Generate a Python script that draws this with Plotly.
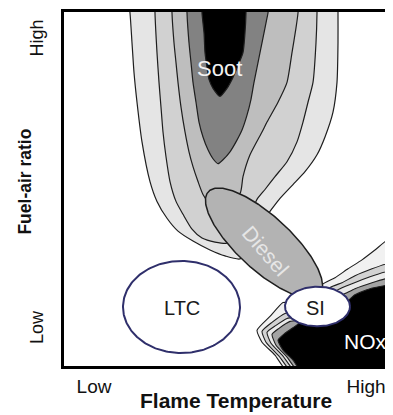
import numpy as np
import plotly.graph_objects as go

# ---- data (x: flame temperature index 0..326, y: fuel-air ratio index 0..357) ----
soot_levels = ["soot 1", "soot 2", "soot 3", "soot 4", "soot 5"]
soot_colors = ["#e5e5e5", "#d1d1d1", "#bebebe", "#828282", "#000000"]

soot1_x = [64, 66, 68, 70, 73, 78, 86, 93, 103, 114, 129, 146, 161, 176, 194, 198,
           206, 216, 229, 241, 253, 261, 269, 273, 274, 274, 274]
soot1_y = [371, 356, 326, 296, 266, 226, 186, 166, 149, 136, 126, 117, 111, 108, 126, 146,
           156, 169, 183, 196, 213, 231, 256, 286, 326, 356, 371]

soot2_x = [91, 91, 93, 95, 97, 99, 102, 106, 112, 119, 128, 138, 151, 164, 181,
           193, 201, 211, 223, 233, 239, 244, 249, 252, 253, 253]
soot2_y = [371, 356, 316, 286, 261, 236, 211, 186, 166, 153, 138, 129, 125, 124, 141,
           168, 178, 191, 206, 226, 246, 266, 286, 326, 356, 371]

soot3_x = [108, 108, 110, 112, 114, 117, 121, 125, 129, 134, 139, 146, 161,
           176, 179, 186, 198, 203, 214, 223, 228, 232, 234, 235]
soot3_y = [371, 356, 326, 306, 286, 261, 236, 216, 201, 186, 173, 164, 166,
           174, 191, 213, 236, 246, 266, 286, 316, 341, 356, 371]

soot4_x = [123, 123, 125, 127, 129, 132, 135, 139, 144, 149, 154, 159, 166, 172,
           178, 183, 187, 190, 194, 199, 203, 204, 205]
soot4_y = [371, 356, 326, 306, 286, 266, 246, 231, 218, 209, 204, 208, 216, 226,
           238, 253, 269, 286, 306, 331, 351, 356, 371]

soot5_x = [138, 138, 140, 141, 143, 145, 149, 156, 163, 169, 174, 179, 181, 182, 182]
soot5_y = [371, 356, 336, 316, 301, 289, 280, 272, 280, 291, 303, 316, 336, 356, 371]

nox_colors = ["#f1f1f1", "#d2d2d2", "#e9e9e9", "#a3a3a3", "#000000"]
nox1_x = [336, 326, 311, 298, 284, 271, 258, 253, 226, 219, 206, 193, 198, 211, 224, 336]
nox1_y = [129, 129, 117, 107, 98, 89, 82, 66, 64, 64, 50, 36, 24, 11, -6, -6]
nox2_x = [336, 326, 308, 291, 278, 266, 253, 228, 221, 208, 198, 202, 215, 228, 336]
nox2_y = [104, 104, 98, 91, 84, 79, 60, 54, 53, 44, 35, 24, 10, -6, -6]
nox3_x = [336, 326, 306, 288, 274, 253, 229, 223, 212, 203, 207, 219, 232, 336]
nox3_y = [96, 96, 90, 83, 77, 60, 49, 48, 41, 34, 23, 10, -6, -6]
nox4_x = [336, 326, 308, 291, 281, 253, 232, 226, 215, 208, 212, 223, 235, 336]
nox4_y = [89, 89, 84, 78, 73, 60, 46, 45, 38, 32, 21, 9, -6, -6]
nox5_x = [336, 326, 306, 291, 284, 253, 236, 231, 221, 214, 219, 229, 238, 336]
nox5_y = [82, 82, 78, 72, 66, 60, 44, 40, 33, 26, 16, 6, -6, -6]

# combustion regimes: centre x, centre y, semi-axis a, semi-axis b, angle (deg)
regime_names = ["Diesel", "LTC", "SI"]
regime_cx = [200, 117.5, 253.5]
regime_cy = [124, 59.5, 60]
regime_a = [76, 58.5, 32.5]
regime_b = [27, 46.5, 20]
regime_angle = [-43, 0, 0]
regime_fill = ["#b3b3b3", "#ffffff", "#ffffff"]
regime_line = ["#1e1e1e", "#2f2f6b", "#2f2f6b"]
regime_lw = [1.5, 2, 2]

x_ticks = [30, 302]
y_ticks = [36, 328]
tick_text = ["Low", "High"]

FONT = "Liberation Sans, Arial, sans-serif"

fig = go.Figure()

soot_x = [soot1_x, soot2_x, soot3_x, soot4_x, soot5_x]
soot_y = [soot1_y, soot2_y, soot3_y, soot4_y, soot5_y]
for xs, ys, c in zip(soot_x, soot_y, soot_colors):
    fig.add_trace(go.Scatter(x=xs, y=ys, mode="lines", fill="toself", fillcolor=c,
                             line=dict(color="#1e1e1e", width=1.2, shape="spline", smoothing=0.6),
                             hoverinfo="skip", showlegend=False))

nox_x = [nox1_x, nox2_x, nox3_x, nox4_x, nox5_x]
nox_y = [nox1_y, nox2_y, nox3_y, nox4_y, nox5_y]
for xs, ys, c in zip(nox_x, nox_y, nox_colors):
    fig.add_trace(go.Scatter(x=xs, y=ys, mode="lines", fill="toself", fillcolor=c,
                             line=dict(color="#1e1e1e", width=1.1, shape="spline", smoothing=0.5),
                             hoverinfo="skip", showlegend=False))

t = np.linspace(0, 2 * np.pi, 241)
for name, cx, cy, a, b, ang, fc, lc, lw in zip(regime_names, regime_cx, regime_cy, regime_a,
                                                regime_b, regime_angle, regime_fill,
                                                regime_line, regime_lw):
    th = np.deg2rad(ang)
    ex = cx + a * np.cos(t) * np.cos(th) - b * np.sin(t) * np.sin(th)
    ey = cy + a * np.cos(t) * np.sin(th) + b * np.sin(t) * np.cos(th)
    fig.add_trace(go.Scatter(x=ex, y=ey, mode="lines", fill="toself", fillcolor=fc,
                             line=dict(color=lc, width=lw), name=name,
                             hoverinfo="skip", showlegend=False))

labels = [
    dict(text="Soot", x=155, y=300, size=22, color="#f2f2f2", angle=0),
    dict(text="Diesel", x=201, y=116, size=21, color="#e6e6e6", angle=49),
    dict(text="LTC", x=118, y=58, size=20, color="#1a1a1a", angle=0),
    dict(text="SI", x=251, y=59, size=20, color="#1a1a1a", angle=0),
    dict(text="NOx", x=301, y=25, size=21, color="#ffffff", angle=0),
]
for lb in labels:
    fig.add_annotation(x=lb["x"], y=lb["y"], xref="x", yref="y", text=lb["text"],
                       showarrow=False, textangle=lb["angle"],
                       xanchor="center", yanchor="middle",
                       font=dict(family=FONT, size=lb["size"], color=lb["color"]))

fig.add_annotation(x=172, y=-0.098, xref="x", yref="paper", text="<b>Flame Temperature</b>",
                   showarrow=False, xanchor="center", yanchor="middle",
                   font=dict(family=FONT, size=21, color="#111"))
fig.add_annotation(x=-0.1196, y=0.521, xref="paper", yref="paper", text="<b>Fuel-air ratio</b>",
                   showarrow=False, textangle=-90, xanchor="center", yanchor="middle",
                   font=dict(family=FONT, size=17.5, color="#111"))

fig.add_shape(type="line", xref="paper", yref="paper", x0=1, x1=1, y0=0, y1=1,
              line=dict(color="#bdbdbd", width=1))

fig.update_xaxes(range=[0, 326], showgrid=False, zeroline=False, showline=True, linewidth=3,
                 linecolor="black", mirror=True, tickvals=x_ticks, ticktext=tick_text, ticks="",
                 tickfont=dict(family=FONT, size=19, color="#111"), ticklabelstandoff=1,
                 fixedrange=True)
fig.update_yaxes(range=[0, 357], showgrid=False, zeroline=False, showline=True, linewidth=3,
                 linecolor="black", tickvals=y_ticks, ticktext=tick_text, ticks="",
                 tickangle=-90, tickfont=dict(family=FONT, size=18, color="#111"),
                 ticklabelstandoff=11, fixedrange=True)

# the page body adds an 8 px offset, so the figure is sized to fill the rest of the window
fig.update_layout(width=385, height=407, margin=dict(l=56, r=3, t=1, b=49),
                  plot_bgcolor="white", paper_bgcolor="white", showlegend=False)

fig.write_html("out.html")
